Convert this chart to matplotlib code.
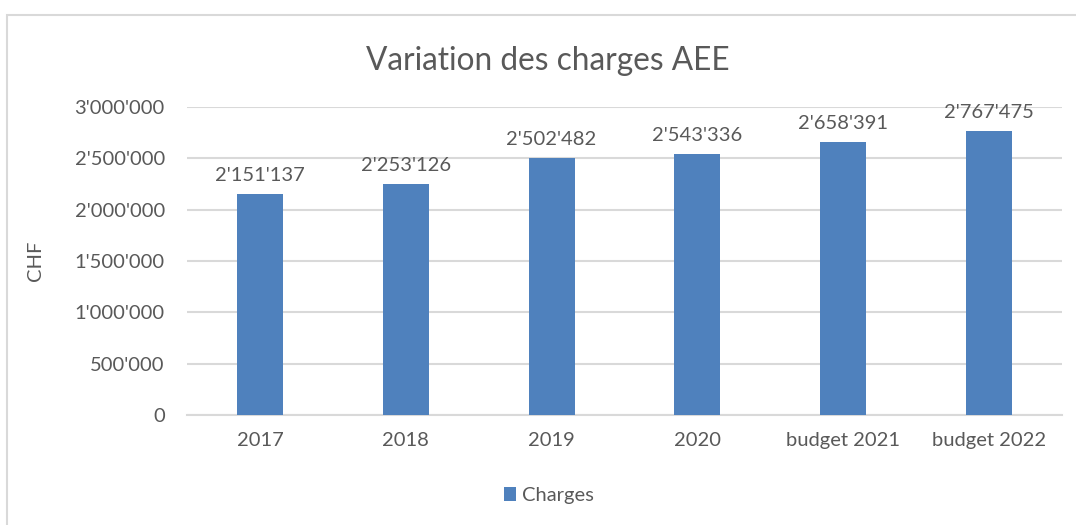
import matplotlib.pyplot as plt
from matplotlib.patches import Rectangle

categories = ['2017', '2018', '2019', '2020', 'budget 2021', 'budget 2022']
charges = [2151137, 2253126, 2502482, 2543336, 2658391, 2767475]
y_ticks = [0, 500000, 1000000, 1500000, 2000000, 2500000, 3000000]


def fmt_chf(v):
    return f"{v:,.0f}".replace(',', "'")


plt.rcParams['font.family'] = ['Lato', 'DejaVu Sans']
gris = '#595959'

fig = plt.figure(figsize=(10.76, 5.25), dpi=100)
ax = fig.add_axes([0.1738, 0.2095, 0.8132, 0.5867])

x = list(range(len(categories)))
barres = ax.bar(x, charges, width=0.315, color='#4F81BD', label='Charges', zorder=3)

for b, v in zip(barres, charges):
    ax.annotate(fmt_chf(v), (b.get_x() + b.get_width() / 2, v),
                xytext=(0, 7), textcoords='offset points',
                ha='center', va='bottom', fontsize=14.5, color=gris)

ax.set_xlim(-0.5, len(categories) - 0.5)
ax.set_ylim(0, 3000000)
ax.set_yticks(y_ticks)
ax.set_yticklabels([fmt_chf(v) for v in y_ticks])
ax.set_xticks(x)
ax.set_xticklabels(categories)
ax.tick_params(axis='both', length=0, labelsize=14.5, labelcolor=gris)
ax.tick_params(axis='y', pad=16)
ax.tick_params(axis='x', pad=12)
ax.grid(axis='y', color='#D9D9D9', linewidth=1.5, zorder=0)
for s in ['top', 'right', 'left']:
    ax.spines[s].set_visible(False)
ax.spines['bottom'].set_color('#D9D9D9')
ax.spines['bottom'].set_linewidth(1.5)

ax.set_ylabel('CHF', fontsize=14.5, color=gris, labelpad=22)
fig.text(0.509, 0.884, 'Variation des charges AEE', ha='center', va='center',
         fontsize=22.8, color=gris)

fig.legend(loc='center', bbox_to_anchor=(0.51, 0.057), frameon=False,
           fontsize=14.5, labelcolor=gris, handlelength=0.6, handleheight=0.7,
           handletextpad=0.3)

# cadre du graphique
fig.patches.append(Rectangle((7 / 1076, -0.1), 1.2, 1 - 15 / 525 + 0.1,
                             transform=fig.transFigure, fill=False,
                             edgecolor='#D9D9D9', linewidth=1.5))

fig.savefig('out.png', dpi=100)
